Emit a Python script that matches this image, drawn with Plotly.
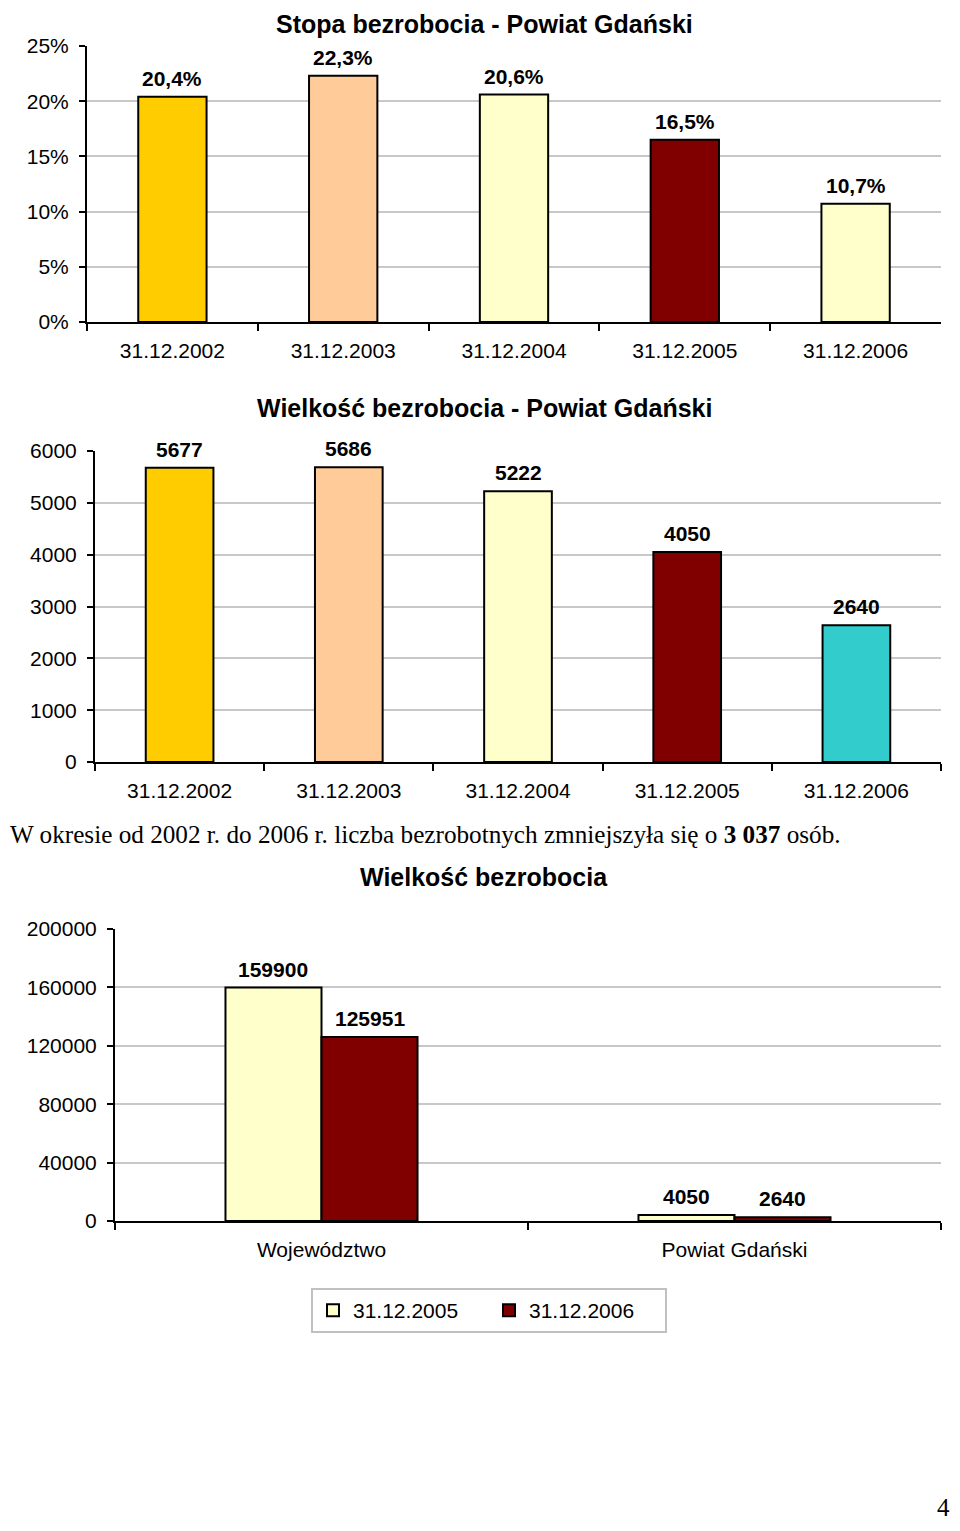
import plotly.graph_objects as go

OFF = 8.0            # page body margin around the figure
W = 960.0 - 2 * OFF  # figure size so the page fits the 960x1531 window
H = 1531.0 - 2 * OFF

# ---- data ----
dates = ["31.12.2002", "31.12.2003", "31.12.2004", "31.12.2005", "31.12.2006"]
rate = [0.204, 0.223, 0.206, 0.165, 0.107]
rate_labels = ["20,4%", "22,3%", "20,6%", "16,5%", "10,7%"]
rate_colors = ["#FFCC00", "#FFCC99", "#FFFFCC", "#800000", "#FFFFCC"]

counts = [5677, 5686, 5222, 4050, 2640]
count_colors = ["#FFCC00", "#FFCC99", "#FFFFCC", "#800000", "#33CCCC"]

regions = ["Województwo", "Powiat Gdański"]
val_2005 = [159900, 4050]
val_2006 = [125951, 2640]
series_names = ["31.12.2005", "31.12.2006"]
series_colors = ["#FFFFCC", "#800000"]

title1 = "Stopa bezrobocia - Powiat Gdański"
title2 = "Wielkość bezrobocia - Powiat Gdański"
title3 = "Wielkość bezrobocia"
sentence = "W okresie od 2002 r. do 2006 r. liczba bezrobotnych zmniejszyła się o <b>3 037</b> osób."
page_no = "4"

SANS = "Liberation Sans, Arial, sans-serif"
SERIF = "Liberation Serif, Times New Roman, serif"


def Y(px):
    return 1 - (px - OFF) / H


def X(px):
    return (px - OFF) / W


fig = go.Figure()

fig.add_trace(go.Bar(
    x=dates, y=rate, width=0.4,
    marker=dict(color=rate_colors, line=dict(color="black", width=2)),
    showlegend=False, xaxis="x", yaxis="y", hoverinfo="skip",
))

fig.add_trace(go.Bar(
    x=dates, y=counts, width=0.4,
    marker=dict(color=count_colors, line=dict(color="black", width=2)),
    showlegend=False, xaxis="x2", yaxis="y2", hoverinfo="skip",
))

for name, vals, col in zip(series_names, [val_2005, val_2006], series_colors):
    fig.add_trace(go.Bar(
        x=regions, y=vals, name=name,
        marker=dict(color=col, line=dict(color="black", width=2)),
        xaxis="x3", yaxis="y3", hoverinfo="skip",
    ))

tickfont = dict(family=SANS, size=21, color="black")
common_x = dict(type="category", showline=True, linecolor="black", linewidth=2,
                ticks="outside", tickson="boundaries", ticklen=7, tickwidth=2,
                tickcolor="black", tickfont=tickfont, showgrid=False,
                ticklabelstandoff=9, fixedrange=True)
common_y = dict(showline=True, linecolor="black", linewidth=2, ticks="outside",
                ticklen=6, tickwidth=2, tickcolor="black", tickfont=tickfont,
                showgrid=True, gridcolor="#C8C8C8", gridwidth=2, zeroline=False,
                ticklabelstandoff=6, fixedrange=True)

fig.update_layout(
    width=int(W), height=int(H),
    margin=dict(l=0, r=0, t=0, b=0, autoexpand=False),
    paper_bgcolor="white", plot_bgcolor="white",
    barmode="group", bargap=0.535, bargroupgap=0,
    font=dict(family=SANS, color="black"),
    xaxis=dict(common_x, domain=[X(87), X(941)], anchor="y", range=[-0.5, 4.5]),
    yaxis=dict(common_y, domain=[Y(322), Y(46)], anchor="x", range=[0, 0.25],
               tickvals=[0, 0.05, 0.10, 0.15, 0.20, 0.25], tickformat=".0%"),
    xaxis2=dict(common_x, domain=[X(95), X(941)], anchor="y2", range=[-0.5, 4.5]),
    yaxis2=dict(common_y, domain=[Y(762), Y(451)], anchor="x2", range=[0, 6000],
                tickvals=[0, 1000, 2000, 3000, 4000, 5000, 6000], tickformat="d"),
    xaxis3=dict(common_x, domain=[X(115), X(941)], anchor="y3", range=[-0.5, 1.5]),
    yaxis3=dict(common_y, domain=[Y(1221), Y(929)], anchor="x3", range=[0, 200000],
                tickvals=[0, 40000, 80000, 120000, 160000, 200000], tickformat="d"),
    legend=dict(orientation="h", x=X(489), xanchor="center", y=Y(1288), yanchor="top",
                font=dict(family=SANS, size=21, color="black"),
                bordercolor="#C0C0C0", borderwidth=2, bgcolor="white",
                entrywidth=131, entrywidthmode="pixels", itemwidth=30),
    showlegend=True,
)

label_font = dict(family=SANS, size=21, color="black")
LSHIFT = 5

# value labels above bars
for xs, ys, labels, xr, yr in [
    (dates, rate, rate_labels, "x", "y"),
    (dates, counts, [str(v) for v in counts], "x2", "y2"),
]:
    for xv, yv, t in zip(xs, ys, labels):
        fig.add_annotation(x=xv, y=yv, xref=xr, yref=yr, text="<b>%s</b>" % t,
                           showarrow=False, yanchor="bottom", yshift=LSHIFT,
                           font=label_font)

bar_px = (941 - 115) / len(regions) * (1 - 0.535) / 2
for vals, sgn in [(val_2005, -1), (val_2006, 1)]:
    for xv, yv in zip(regions, vals):
        fig.add_annotation(x=xv, y=yv, xref="x3", yref="y3", text="<b>%d</b>" % yv,
                           showarrow=False, yanchor="bottom", yshift=LSHIFT,
                           xshift=sgn * bar_px / 2, font=label_font)

title_font = dict(family=SANS, size=25, color="black")
fig.add_annotation(text="<b>%s</b>" % title1, x=X(484), y=1.0, xref="paper", yref="paper",
                   xanchor="center", yanchor="top", showarrow=False, font=title_font)
for t, cx, cy in [(title2, 484, 408), (title3, 484, 877)]:
    fig.add_annotation(text="<b>%s</b>" % t, x=X(cx), y=Y(cy), xref="paper", yref="paper",
                       xanchor="center", yanchor="middle", showarrow=False, font=title_font)

fig.add_annotation(text=sentence, x=0.0, y=Y(834), xref="paper", yref="paper",
                   xanchor="left", yanchor="middle", showarrow=False,
                   font=dict(family=SERIF, size=25.2, color="black"))
fig.add_annotation(text=page_no, x=1.0, y=0.0, xref="paper", yref="paper",
                   xanchor="right", yanchor="bottom", showarrow=False,
                   font=dict(family=SERIF, size=25, color="black"))

fig.write_html("out.html")
